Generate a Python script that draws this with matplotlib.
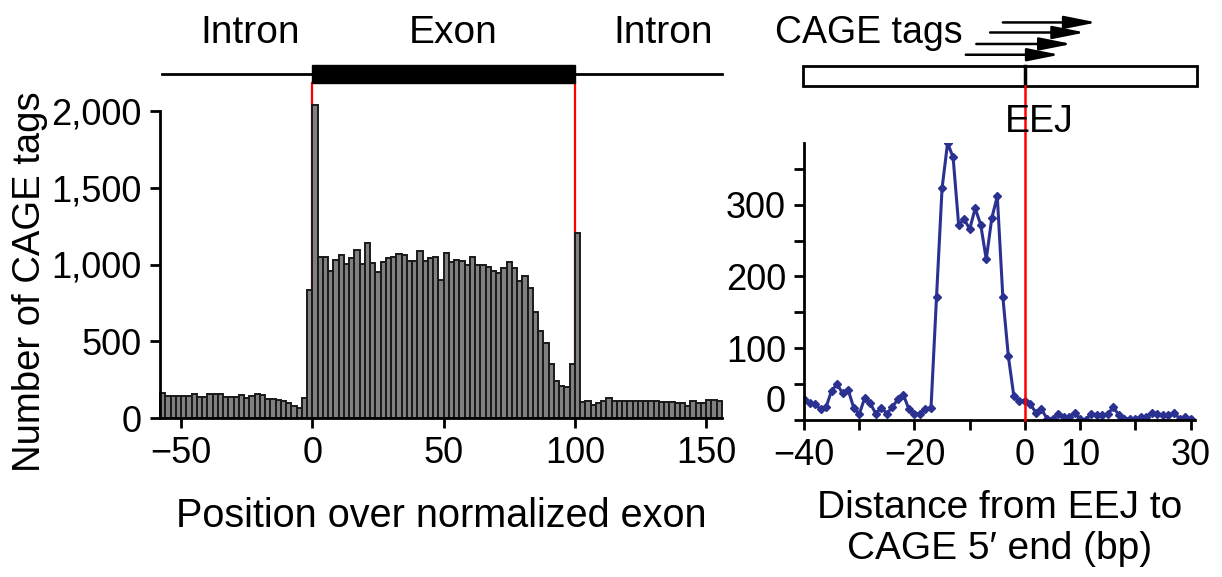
import numpy as np
import matplotlib.pyplot as plt
from matplotlib.patches import Rectangle

plt.rcParams['font.family'] = ['Liberation Sans', 'DejaVu Sans']
plt.rcParams['font.size'] = 26

# left panel: CAGE tags per 2-unit bin (upstream intron, exon, downstream intron)
intron5_counts = [164, 143, 143, 145, 143, 145, 155, 140, 135, 158, 155, 155, 135, 138, 138,
                  147, 130, 145, 155, 150, 122, 122, 115, 110, 100, 75, 65, 128, 835]
exon_counts = [2040, 1050, 1050, 960, 1030, 1065, 1005, 1045, 1095, 1005, 1140, 1010, 950,
               1015, 1045, 1050, 1070, 1065, 1020, 1020, 1085, 1020, 1045, 1050, 900,
               1073, 1014, 1030, 1025, 995, 1047, 1000, 1000, 985, 955, 945, 975, 1015,
               980, 890, 925, 845, 690, 570, 490, 355, 240, 210, 200, 350]
intron3_counts = [1203, 106, 112, 84, 95, 112, 128, 112, 112, 112, 110, 110, 108, 108, 110,
                  110, 106, 102, 102, 100, 98, 80, 108, 95, 98, 117, 117, 108]
bin_width = 2
first_bin = -58
left_ticks = [-50, 0, 50, 100, 150]
left_yticks = [0, 500, 1000, 1500, 2000]
left_ylabels = ['0', '500', '1,000', '1,500', '2,000']

# right panel: CAGE tags by distance from exon-exon junction
distance = np.arange(-40, 31)
tags = [29, 24, 22, 15, 18, 41, 50, 37, 42, 17, 8, 31, 23, 9, 17, 9, 18, 29, 35, 15, 9, 9, 16, 17,
        172, 323, 386, 366, 272, 280, 266, 295, 272, 224, 281, 312, 172, 89, 33, 27,
        27, 22, 10, 15, 2, 2, 8, 4, 4, 10, 2, 0, 9, 7, 7, 8, 18, 7, 2, 2, 2, 4, 4, 10,
        8, 7, 7, 10, 2, 4, 2]
right_xticks = [-40, -30, -20, -10, 0, 10, 20, 30]
right_xlabels = ['\u221240', '', '\u221220', '', '0', '10', '', '30']

counts = intron5_counts + exon_counts + intron3_counts
edges = first_bin + bin_width * np.arange(len(counts))

fig = plt.figure(figsize=(12.22, 5.77), dpi=100)

# ---- left panel
ax1 = fig.add_axes([160 / 1222, 159 / 577, 562 / 1222, 307 / 577])
ax1.plot([0, 0], [0, 2182], color='red', lw=1.6, zorder=1, clip_on=False)
ax1.plot([100, 100], [0, 2182], color='red', lw=1.6, zorder=1, clip_on=False)
ax1.bar(edges, counts, width=bin_width, align='edge', color='#808080',
        edgecolor='#1a1a1a', linewidth=1.4, zorder=2, clip_on=False)
ax1.set_xlim(-58, 156)
ax1.set_ylim(0, 2000)
ax1.set_xticks(left_ticks)
ax1.set_xticklabels(['\u221250', '0', '50', '100', '150'])
ax1.set_yticks(left_yticks)
ax1.set_yticklabels(left_ylabels)
ax1.set_xlabel('Position over normalized exon', labelpad=19, fontsize=28.5)
ax1.set_ylabel('Number of CAGE tags', fontsize=27.5)
ax1.yaxis.set_label_coords(-0.199, 0.443)

# gene model above the histogram
ax1.plot([-57.2, 156], [2241, 2241], color='black', lw=2, clip_on=False)
ax1.add_patch(Rectangle((0, 2182), 100, 118, facecolor='black', edgecolor='black', clip_on=False))
for x, s in [(-23.6, 'Intron'), (53.6, 'Exon'), (133.5, 'Intron')]:
    ax1.text(x, 2440, s, ha='center', va='baseline', fontsize=28)

# ---- right panel
ax2 = fig.add_axes([804 / 1222, 157 / 577, 391 / 1222, 277 / 577])
ax2.plot([0, 0], [0, 465], color='red', lw=1.8, zorder=3, clip_on=False)
ax2.plot(distance, tags, color='#2b3190', lw=2.2, marker='D', markersize=4.5, zorder=2)
ax2.set_xlim(-40, 30.8)
ax2.set_ylim(0, 386)
ax2.set_xticks(right_xticks)
ax2.set_xticklabels(right_xlabels)
ax2.set_yticks([0, 100, 200, 300])
ax2.set_yticks([50, 150, 250, 350], minor=True)
ax2.set_xlabel('Distance from EEJ to\nCAGE 5\u2032 end (bp)', labelpad=12, fontsize=28, linespacing=1.2)
ax2.get_yticklabels()[0].set_verticalalignment('bottom')

# junction diagram with tags
ax2.add_patch(Rectangle((-40.2, 465), 71.4, 28, facecolor='white', edgecolor='black', lw=2, clip_on=False))
ax2.plot([0, 0], [465, 493], color='black', lw=2.5, clip_on=False)
for x0, x1, y in [(-4.0, 13.0, 554), (-6.3, 10.9, 540), (-8.8, 8.5, 524), (-10.7, 6.3, 509)]:
    ax2.annotate('', xy=(x1, y), xytext=(x0, y), annotation_clip=False,
                 arrowprops=dict(arrowstyle='-|>,head_length=1.4,head_width=0.28',
                                 color='black', lw=1.8, shrinkA=0, shrinkB=0, mutation_scale=14))
ax2.text(-45.3, 525, 'CAGE tags', ha='left', va='baseline', fontsize=27)
ax2.text(-3.6, 401, 'EEJ', ha='left', va='baseline', fontsize=27)

for ax in (ax1, ax2):
    for side in ('top', 'right'):
        ax.spines[side].set_visible(False)
    for side in ('left', 'bottom'):
        ax.spines[side].set_linewidth(2)
    ax.tick_params(which='both', direction='out', length=7, width=2, labelsize=26, pad=6)

fig.savefig('out.png', dpi=100)
